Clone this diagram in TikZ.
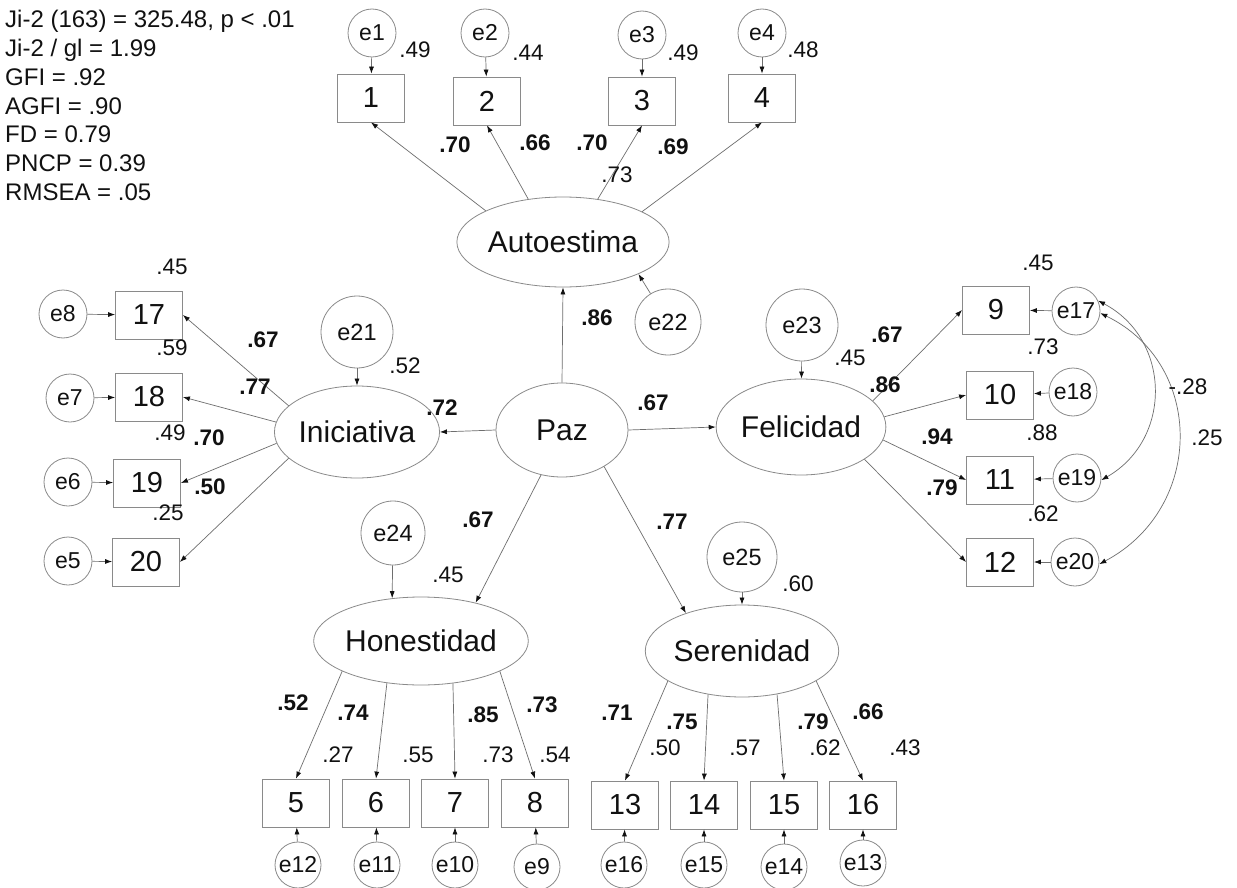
\documentclass[tikz,border=0pt]{standalone}
\usepackage{fontspec}
\setmainfont{Liberation Sans}
\usetikzlibrary{shapes.geometric,arrows.meta}
\definecolor{ln}{HTML}{6E6E6E}
\definecolor{bd}{HTML}{8A8A8A}
\definecolor{tx}{HTML}{111111}
\begin{document}
\begin{tikzpicture}[x=1pt,y=-1pt,
  lat/.style={ellipse, draw=bd, line width=0.8pt, inner sep=0pt, text=tx, font=\fontsize{30}{34}\selectfont},
  obs/.style={rectangle, draw=bd, line width=0.8pt, minimum width=67pt, minimum height=48pt, inner sep=0pt, text=tx, font=\fontsize{29}{34}\selectfont},
  err/.style={circle, draw=bd, line width=0.8pt, minimum size=48pt, inner sep=0pt, text=tx, font=\fontsize{23}{26}\selectfont},
  dis/.style={circle, draw=bd, line width=0.8pt, inner sep=0pt, text=tx, font=\fontsize{23.5}{26}\selectfont},
  lab/.style={inner sep=0pt, text=tx, font=\fontsize{22.5}{26}\selectfont},
  blab/.style={inner sep=0pt, text=tx, font=\fontsize{22.5}{26}\selectfont\bfseries},
  stat/.style={anchor=base west, inner sep=0pt, text=tx, font=\fontsize{24}{28}\selectfont},
  arr/.style={draw=ln, line width=0.7pt, -{Latex[length=7pt,width=5pt,color=tx]}},
  cov/.style={draw=ln, line width=0.7pt, {Latex[length=7pt,width=5pt,color=tx]}-{Latex[length=7pt,width=5pt,color=tx]}}
]
\useasboundingbox[fill=white] (0,0) rectangle (1237,888);

% fit statistics
\node[stat] (s1) at (5,28) {Ji-2 (163) = 325.48, p < .01};
\node[stat] (s2) at (5,56.7) {Ji-2 / gl = 1.99};
\node[stat] (s3) at (5,85.4) {GFI = .92};
\node[stat] (s4) at (5,114.1) {AGFI = .90};
\node[stat] (s5) at (5,142.8) {FD = 0.79};
\node[stat] (s6) at (5,171.5) {PNCP = 0.39};
\node[stat] (s7) at (5,200.2) {RMSEA = .05};

% latent variables
\node[lat, minimum width=180pt, minimum height=90pt] (auto) at (563,242) {Autoestima};
\node[lat, minimum width=132pt, minimum height=94pt] (paz) at (562,430) {Paz};
\node[lat, minimum width=144pt, minimum height=92pt] (ini) at (357,432) {Iniciativa};
\node[lat, minimum width=156pt, minimum height=96pt] (fel) at (801,427) {Felicidad};
\node[lat, minimum width=182pt, minimum height=88pt] (hon) at (421,641) {Honestidad};
\node[lat, minimum width=190pt, minimum height=92pt] (ser) at (742,651) {Serenidad};

% disturbances
\node[dis, minimum size=72pt] (e21) at (357,332) {e21};
\node[dis, minimum size=66pt] (e22) at (668,322) {e22};
\node[dis, minimum size=72pt] (e23) at (802,325) {e23};
\node[dis, minimum size=64pt] (e24) at (393,533) {e24};
\node[dis, minimum size=70pt] (e25) at (742,557) {e25};

% observed: Autoestima
\node[obs] (b1) at (371,98) {1};
\node[obs] (b2) at (487,101) {2};
\node[obs] (b3) at (642,101) {3};
\node[obs] (b4) at (762,98) {4};
\node[err] (e1) at (372,33) {e1};
\node[err] (e2) at (485,33) {e2};
\node[err] (e3) at (642,35) {e3};
\node[err] (e4) at (762,33) {e4};

% observed: Iniciativa
\node[obs] (b17) at (149,315) {17};
\node[obs] (b18) at (149,397) {18};
\node[obs] (b19) at (147,483) {19};
\node[obs] (b20) at (146,562) {20};
\node[err] (e8) at (63,314) {e8};
\node[err] (e7) at (70,398) {e7};
\node[err] (e6) at (68,482) {e6};
\node[err] (e5) at (68,561) {e5};

% observed: Felicidad
\node[obs] (b9) at (996,310) {9};
\node[obs] (b10) at (1000,395) {10};
\node[obs] (b11) at (1000,480) {11};
\node[obs] (b12) at (1000,562) {12};
\node[err] (e17) at (1076,311) {e17};
\node[err] (e18) at (1073,392) {e18};
\node[err] (e19) at (1077,478) {e19};
\node[err] (e20) at (1075,562) {e20};

% observed: Honestidad
\node[obs] (b5) at (296,803) {5};
\node[obs] (b6) at (376,803) {6};
\node[obs] (b7) at (455,803) {7};
\node[obs] (b8) at (535,803) {8};
\node[err, minimum size=46pt] (e12) at (298,865) {e12};
\node[err, minimum size=46pt] (e11) at (377,865) {e11};
\node[err, minimum size=46pt] (e10) at (455,865) {e10};
\node[err, minimum size=46pt] (e9) at (537,867) {e9};

% observed: Serenidad
\node[obs] (b13) at (625,805) {13};
\node[obs] (b14) at (704,805) {14};
\node[obs] (b15) at (784,805) {15};
\node[obs] (b16) at (863,805) {16};
\node[err, minimum size=46pt] (e16) at (624,865) {e16};
\node[err, minimum size=46pt] (e15) at (704,865) {e15};
\node[err, minimum size=46pt] (e14) at (784,867) {e14};
\node[err, minimum size=46pt] (e13) at (863,863) {e13};

% structural paths
\draw[arr] (paz.north) -- (auto.south);
\draw[arr] (paz.west) -- (ini.east);
\draw[arr] (paz.east) -- (fel.west);
\draw[arr] (paz.245) -- (hon.35);
\draw[arr] (paz.319) -- (ser.146);
\draw[arr] (e21) -- (ini);
\draw[arr] (e22) -- (auto.337);
\draw[arr] (e23) -- (fel);
\draw[arr] (e24) -- (hon.124);
\draw[arr] (e25) -- (ser.north);

% loadings
\draw[arr] (auto.158) -- (b1.south);
\draw[arr] (auto.129) -- (b2.south);
\draw[arr] (auto.51) -- (b3.south);
\draw[arr] (auto.21) -- (b4.south);
\draw[arr] (ini.159) -- (b17.east);
\draw[arr] (ini.173) -- (b18.east);
\draw[arr] (ini.188) -- (b19.east);
\draw[arr] (ini.201) -- (b20.east);
\draw[arr] (fel.20) -- (b9.west);
\draw[arr] (fel.7) -- (b10.west);
\draw[arr] (fel.351) -- (b11.west);
\draw[arr] (fel.333) -- (b12.west);
\draw[arr] (hon.201) -- (b5.north);
\draw[arr] (hon.231) -- (b6.north);
\draw[arr] (hon.307) -- (b7.north);
\draw[arr] (hon.339) -- (b8.north);
\draw[arr] (ser.202) -- (b13.north);
\draw[arr] (ser.232) -- (b14.north);
\draw[arr] (ser.309) -- (b15.north);
\draw[arr] (ser.338) -- (b16.north);

% error arrows
\foreach \e/\b in {e1/b1,e2/b2,e3/b3,e4/b4,e8/b17,e7/b18,e6/b19,e5/b20,e17/b9,e18/b10,e19/b11,e20/b12,e12/b5,e11/b6,e10/b7,e9/b8,e16/b13,e15/b14,e14/b15,e13/b16}
  \draw[arr] (\e) -- (\b);

% covariances
\draw[cov] (e17.25) .. controls (1171,339) and (1173,439) .. (e19.-5);
\draw[cov] (e17.-5) .. controls (1205,364) and (1205,508) .. (e20.-5);

% labels: Autoestima block
\node[lab] (l1) at (415,50) {.49};
\node[lab] (l2) at (528,53) {.44};
\node[lab] (l3) at (683,53) {.49};
\node[lab] (l4) at (803,50) {.48};
\node[blab] (k1) at (455,145) {.70};
\node[blab] (k2) at (535,143) {.66};
\node[blab] (k3) at (592,143) {.70};
\node[blab] (k4) at (673,147) {.69};
\node[lab] (la) at (617,175) {.73};
\node[blab] (kp1) at (597,318) {.86};

% Iniciativa block
\node[lab] (l17) at (172,267) {.45};
\node[lab] (l18) at (172,348) {.59};
\node[lab] (l19) at (170,433) {.49};
\node[lab] (l20) at (168,513) {.25};
\node[blab] (k17) at (263,340) {.67};
\node[blab] (k18) at (255,387) {.77};
\node[blab] (k19) at (209,438) {.70};
\node[blab] (k20) at (210,487) {.50};
\node[lab] (li) at (405,366) {.52};
\node[blab] (kp2) at (442,408) {.72};

% Felicidad block
\node[blab] (kp3) at (653,403) {.67};
\node[lab] (lf) at (850,358) {.45};
\node[blab] (k9) at (887,335) {.67};
\node[blab] (k10) at (885,385) {.86};
\node[blab] (k11) at (937,437) {.94};
\node[blab] (k12) at (942,488) {.79};
\node[lab] (l9) at (1038,263) {.45};
\node[lab] (l10) at (1043,347) {.73};
\node[lab] (l11) at (1042,433) {.88};
\node[lab] (l12) at (1043,514) {.62};
\node[lab] (c1) at (1188,387) {-.28};
\node[lab] (c2) at (1207,438) {.25};

% Honestidad block
\node[blab] (kp4) at (478,520) {.67};
\node[lab] (lh) at (448,575) {.45};
\node[blab] (k5) at (293,703) {.52};
\node[blab] (k6) at (353,713) {.74};
\node[blab] (k7) at (483,715) {.85};
\node[blab] (k8) at (542,705) {.73};
\node[lab] (l5) at (338,755) {.27};
\node[lab] (l6) at (418,755) {.55};
\node[lab] (l7) at (498,755) {.73};
\node[lab] (l8) at (555,755) {.54};

% Serenidad block
\node[blab] (kp5) at (672,522) {.77};
\node[lab] (ls) at (798,584) {.60};
\node[blab] (k13) at (617,713) {.71};
\node[blab] (k14) at (682,722) {.75};
\node[blab] (k15) at (813,722) {.79};
\node[blab] (k16) at (868,712) {.66};
\node[lab] (l13) at (665,748) {.50};
\node[lab] (l14) at (745,748) {.57};
\node[lab] (l15) at (825,748) {.62};
\node[lab] (l16) at (905,748) {.43};
\end{tikzpicture}
\end{document}
